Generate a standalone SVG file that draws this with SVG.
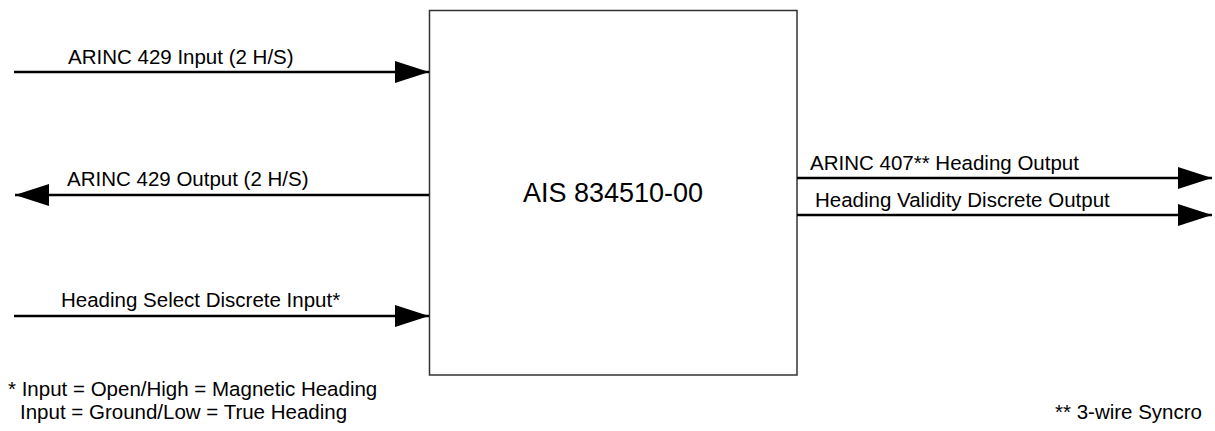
<svg xmlns="http://www.w3.org/2000/svg" width="1215" height="431" viewBox="0 0 1215 431">
  <style>
    text { font-family: "Liberation Sans", Arial, sans-serif; fill: #000; }
    .lbl { font-size: 20.5px; }
    .title { font-size: 27px; }
    .wire { stroke: #000; stroke-width: 2.5; fill: none; }
    .box { fill: #fff; stroke: #333; stroke-width: 1.5; }
  </style>
  <defs>
    <marker id="arr" viewBox="0 0 34 22" refX="34" refY="11" markerWidth="34" markerHeight="22" markerUnits="userSpaceOnUse" orient="auto">
      <path d="M0,0 L34,11 L0,22 Z" fill="#000"/>
    </marker>
  </defs>
  <rect width="1215" height="431" fill="#fff"/>
  <g id="ais">
    <rect class="box" x="429.5" y="10.5" width="367.5" height="364.5"/>
    <text class="title" x="613" y="202" text-anchor="middle">AIS 834510-00</text>
  </g>
  <g id="connectors">
    <line class="wire" x1="14" y1="72" x2="429" y2="72" marker-end="url(#arr)"/>
    <line class="wire" x1="429" y1="195" x2="15" y2="195" marker-end="url(#arr)"/>
    <line class="wire" x1="14" y1="316" x2="429" y2="316" marker-end="url(#arr)"/>
    <line class="wire" x1="797" y1="178" x2="1212" y2="178" marker-end="url(#arr)"/>
    <line class="wire" x1="797" y1="215" x2="1212" y2="215" marker-end="url(#arr)"/>
  </g>
  <g id="labels">
    <text class="lbl" x="68" y="64">ARINC 429 Input (2 H/S)</text>
    <text class="lbl" x="67" y="186">ARINC 429 Output (2 H/S)</text>
    <text class="lbl" x="61" y="307">Heading Select Discrete Input*</text>
    <text class="lbl" x="810" y="170">ARINC 407** Heading Output</text>
    <text class="lbl" x="815" y="207">Heading Validity Discrete Output</text>
  </g>
  <g id="notes">
    <text class="lbl" x="8" y="396">* Input = Open/High = Magnetic Heading</text>
    <text class="lbl" x="20" y="419">Input = Ground/Low = True Heading</text>
    <text class="lbl" x="1202" y="419" text-anchor="end">** 3-wire Syncro</text>
  </g>
</svg>
